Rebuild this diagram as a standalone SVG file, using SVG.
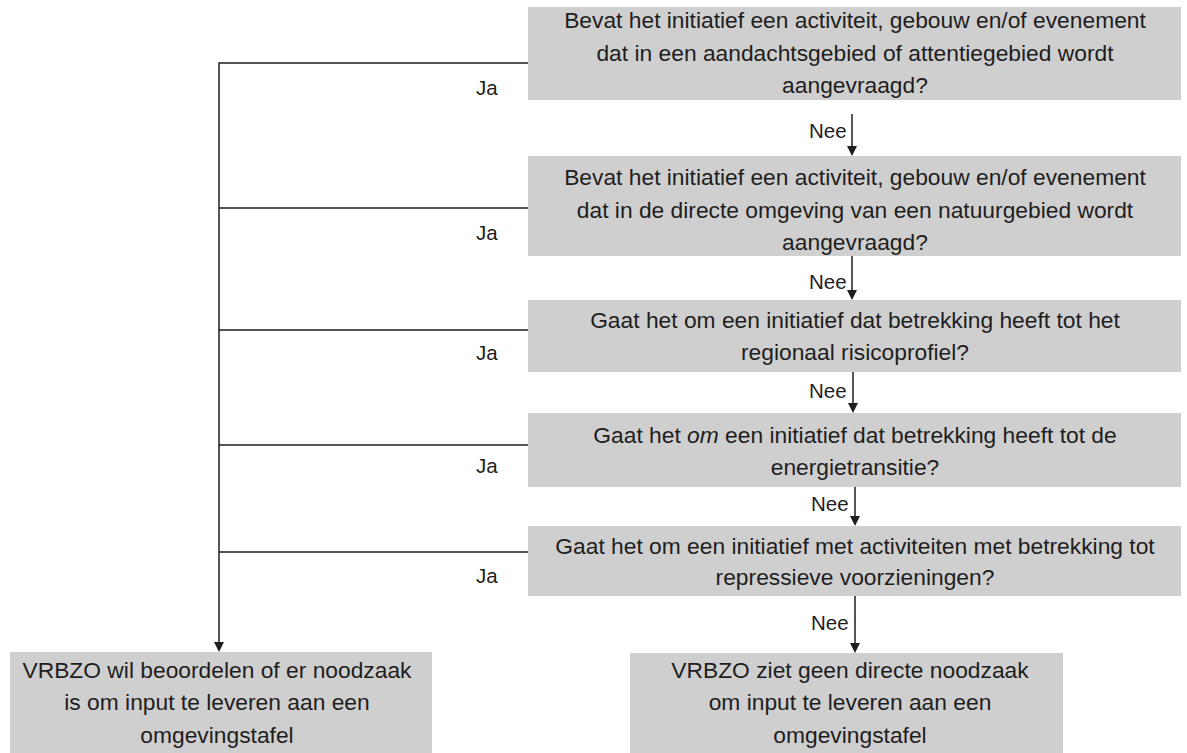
<svg xmlns="http://www.w3.org/2000/svg" width="1187" height="753" viewBox="0 0 1187 753">
<style>
.box{fill:#d0cfcf;stroke:none}
.t{font-family:"Liberation Sans",Arial,sans-serif;font-size:22.8px;fill:#1e1e1e;text-anchor:middle}
.lbl{font-family:"Liberation Sans",Arial,sans-serif;font-size:20.5px;fill:#1e1e1e}
.c{stroke:#1e1e1e;stroke-width:1.5;fill:none}
.ah{fill:#1e1e1e}
</style>
<rect width="1187" height="753" fill="#ffffff"/>
<g id="connectors">
<path class="c" d="M528,63 H219 V643"/>
<polygon class="ah" points="214,642 224,642 219,652"/>
<path class="c" d="M528,208 H219"/>
<path class="c" d="M528,330 H219"/>
<path class="c" d="M528,445 H219"/>
<path class="c" d="M528,552 H219"/>
<line class="c" x1="852" y1="114" x2="852" y2="147"/>
<polygon class="ah" points="847,146 857,146 852,156"/>
<line class="c" x1="852" y1="256" x2="852" y2="291"/>
<polygon class="ah" points="847,290 857,290 852,300"/>
<line class="c" x1="853" y1="372" x2="853" y2="404"/>
<polygon class="ah" points="848,403 858,403 853,413"/>
<line class="c" x1="855" y1="487" x2="855" y2="517"/>
<polygon class="ah" points="850,516 860,516 855,526"/>
<line class="c" x1="855" y1="596" x2="855" y2="644"/>
<polygon class="ah" points="850,643 860,643 855,653"/>
<text class="lbl" x="476" y="95">Ja</text>
<text class="lbl" x="476" y="240">Ja</text>
<text class="lbl" x="476" y="360">Ja</text>
<text class="lbl" x="476" y="473">Ja</text>
<text class="lbl" x="476" y="583">Ja</text>
<text class="lbl" x="809" y="138">Nee</text>
<text class="lbl" x="809" y="289">Nee</text>
<text class="lbl" x="809" y="398">Nee</text>
<text class="lbl" x="811" y="511">Nee</text>
<text class="lbl" x="811" y="630">Nee</text>
</g>
<g id="q1">
<rect class="box" x="528" y="7" width="653" height="93"/>
<text class="t" x="855" y="28">Bevat het initiatief een activiteit, gebouw en/of evenement</text>
<text class="t" x="855" y="61">dat in een aandachtsgebied of attentiegebied wordt</text>
<text class="t" x="855" y="93">aangevraagd?</text>
</g>
<g id="q2">
<rect class="box" x="528" y="156" width="653" height="100"/>
<text class="t" x="855" y="185">Bevat het initiatief een activiteit, gebouw en/of evenement</text>
<text class="t" x="855" y="218">dat in de directe omgeving van een natuurgebied wordt</text>
<text class="t" x="855" y="250">aangevraagd?</text>
</g>
<g id="q3">
<rect class="box" x="528" y="300" width="653" height="72"/>
<text class="t" x="855" y="328">Gaat het om een initiatief dat betrekking heeft tot het</text>
<text class="t" x="855" y="360">regionaal risicoprofiel?</text>
</g>
<g id="q4">
<rect class="box" x="528" y="413" width="653" height="74"/>
<text class="t" x="855" y="443">Gaat het <tspan font-style="italic">om</tspan> een initiatief dat betrekking heeft tot de</text>
<text class="t" x="855" y="475">energietransitie?</text>
</g>
<g id="q5">
<rect class="box" x="528" y="526" width="653" height="70"/>
<text class="t" x="855" y="554">Gaat het om een initiatief met activiteiten met betrekking tot</text>
<text class="t" x="855" y="585">repressieve voorzieningen?</text>
</g>
<g id="result-yes">
<rect class="box" x="10" y="652" width="422" height="101"/>
<text class="t" x="217" y="678">VRBZO wil beoordelen of er noodzaak</text>
<text class="t" x="217" y="710">is om input te leveren aan een</text>
<text class="t" x="217" y="743">omgevingstafel</text>
</g>
<g id="result-no">
<rect class="box" x="630" y="653" width="433" height="100"/>
<text class="t" x="850" y="678">VRBZO ziet geen directe noodzaak</text>
<text class="t" x="850" y="710">om input te leveren aan een</text>
<text class="t" x="850" y="743">omgevingstafel</text>
</g>
</svg>
